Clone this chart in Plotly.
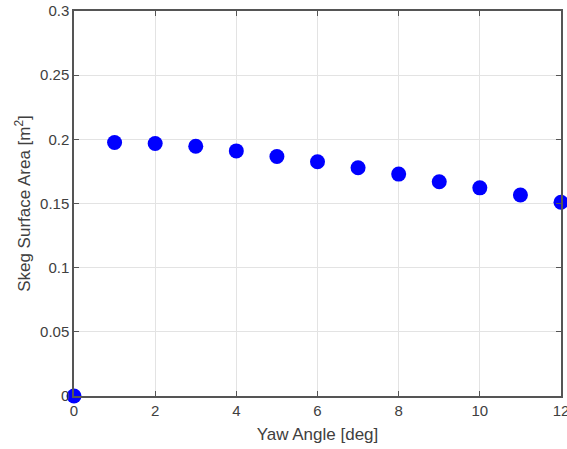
import plotly.graph_objects as go

yaw_deg = [0, 1, 2, 3, 4, 5, 6, 7, 8, 9, 10, 11, 12]
skeg_area = [0.0, 0.1975, 0.1968, 0.1946, 0.1910, 0.1866, 0.1825, 0.1779, 0.1729, 0.1670, 0.1622, 0.1566, 0.1510]

x_ticks = [0, 2, 4, 6, 8, 10, 12]
y_ticks = [0, 0.05, 0.1, 0.15, 0.2, 0.25, 0.3]
y_tick_text = ["0", "0.05", "0.1", "0.15", "0.2", "0.25", "0.3"]

fig = go.Figure()
fig.add_trace(go.Scatter(
    x=yaw_deg, y=skeg_area, mode="markers",
    marker=dict(color="#0000ff", size=15, line=dict(width=0)),
    cliponaxis=False, showlegend=False,
))

font_color = "#404040"
fam = "Arial, Liberation Sans, sans-serif"
axis_common = dict(
    showline=True, linecolor="#555555", linewidth=1.5, mirror="allticks",
    ticks="inside", ticklen=5, tickcolor="#555555", tickwidth=1,
    showgrid=True, gridcolor="#e3e3e3", gridwidth=1, zeroline=False,
    ticklabeloverflow="allow", automargin=False,
    tickfont=dict(family=fam, size=15, color=font_color),
)

fig.update_layout(
    width=567, height=449,
    margin=dict(l=74, r=6, t=11, b=53),
    paper_bgcolor="white", plot_bgcolor="white",
    xaxis=dict(range=[0, 12], tickvals=x_ticks, **axis_common,
               title=dict(text="Yaw Angle [deg]", standoff=10,
                          font=dict(family=fam, size=17, color=font_color))),
    yaxis=dict(range=[0, 0.3], tickvals=y_ticks, ticktext=y_tick_text, **axis_common,
               title=dict(text="Skeg Surface Area [m<sup>2</sup>]", standoff=5,
                          font=dict(family=fam, size=17, color=font_color))),
)

fig.write_html(
    "out.html", config={"displayModeBar": False},
    post_script=("document.body.style.margin='0';"
                 "document.body.style.overflow='hidden';"
                 "document.documentElement.style.overflow='hidden';"),
)
